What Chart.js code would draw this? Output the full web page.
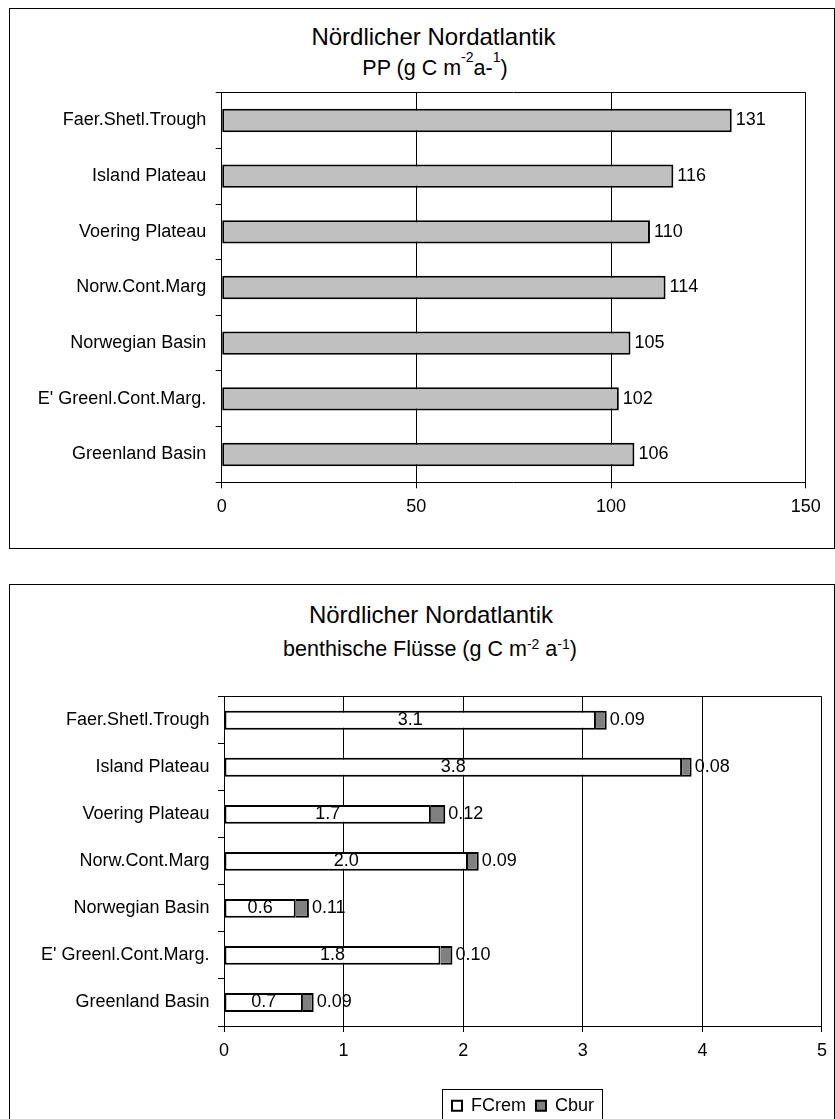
<!DOCTYPE html>
<html><head><meta charset="utf-8">
<script src="https://cdn.jsdelivr.net/npm/chart.js@4.4.1/dist/chart.umd.min.js"></script>
<style>
html,body{margin:0;padding:0;background:#fff;overflow:hidden;width:835px;height:1119px;}
.box{position:absolute;box-sizing:border-box;border:1px solid #000;}
.t{position:absolute;width:600px;text-align:center;font-family:"Liberation Sans",Arial,sans-serif;color:#000;white-space:nowrap;}
.t1{font-size:24px;line-height:24px;}
.t2{font-size:21.5px;line-height:22px;}
.t2 sup{font-size:14px;line-height:0;}
.s1 sup{vertical-align:13px;}
.s2 sup{vertical-align:7px;}
canvas{position:absolute;left:0;}
</style></head><body>
<div class="box" style="left:9px;top:8px;width:826px;height:541px"></div>
<div class="box" style="left:9px;top:584px;width:826px;height:600px"></div>
<div class="t t1" style="left:133.5px;top:24.7px">Nördlicher Nordatlantik</div>
<div class="t t2 s1" style="left:135px;top:56.5px">PP (g C m<sup>-2</sup>a-<sup>1</sup>)</div>
<div class="t t1" style="left:131px;top:603px">Nördlicher Nordatlantik</div>
<div class="t t2 s2" style="left:130px;top:637.5px">benthische Flüsse (g C m<sup>-2</sup> a<sup>-1</sup>)</div>
<canvas id="c1" width="835" height="548" style="top:0"></canvas>
<canvas id="c2" width="835" height="560" style="top:584px"></canvas>
<script>
const categories = ['Faer.Shetl.Trough','Island Plateau','Voering Plateau','Norw.Cont.Marg','Norwegian Basin',"E' Greenl.Cont.Marg.",'Greenland Basin'];
const ppValues = [131,116,110,114,105,102,106];
const fcremValues = [3.11,3.83,1.73,2.04,0.60,1.81,0.66];
const cburValues = [0.09,0.08,0.12,0.09,0.11,0.10,0.09];
const ppTicks = [0,50,100,150];
const fluxTicks = [0,1,2,3,4,5];
const seriesNames = ['FCrem','Cbur'];

const FONT = '"Liberation Sans", Arial, sans-serif';
Chart.defaults.font.family = FONT;
Chart.defaults.font.size = 18;
Chart.defaults.color = '#000';

const al = p => Math.round(p - 0.5) + 0.5;
const frame = {id:'frame', afterDraw(chart){
  const {ctx, chartArea:a} = chart;
  ctx.save(); ctx.strokeStyle='#000'; ctx.lineWidth=1;
  ctx.beginPath();
  ctx.moveTo(al(a.left), al(a.top)); ctx.lineTo(al(a.right), al(a.top)); ctx.lineTo(al(a.right), al(a.bottom));
  ctx.stroke(); ctx.restore();
}};

const ppLabels = {id:'ppLabels', afterDatasetsDraw(chart){
  const ctx = chart.ctx; const meta = chart.getDatasetMeta(0);
  ctx.save(); ctx.font = '18px ' + FONT; ctx.fillStyle='#000'; ctx.textAlign='left'; ctx.textBaseline='middle';
  meta.data.forEach((el,i)=>{ ctx.fillText(String(chart.data.datasets[0].data[i]), el.x + 4, el.y); });
  ctx.restore();
}};

const fluxLabels = {id:'fluxLabels', afterDatasetsDraw(chart){
  const ctx = chart.ctx;
  const m0 = chart.getDatasetMeta(0), m1 = chart.getDatasetMeta(1);
  ctx.save(); ctx.font = '18px ' + FONT; ctx.fillStyle='#000'; ctx.textBaseline='middle';
  ctx.textAlign='center';
  m0.data.forEach((el,i)=>{ ctx.fillText(chart.data.datasets[0].data[i].toFixed(1), (el.x + el.base)/2, el.y); });
  ctx.textAlign='left';
  m1.data.forEach((el,i)=>{ ctx.fillText(chart.data.datasets[1].data[i].toFixed(2), el.x + 3, el.y); });
  ctx.restore();
}};

const legendFrame = {id:'legendFrame', afterDraw(chart){
  const lg = chart.legend; if(!lg || !lg.legendHitBoxes) return;
  const hb = lg.legendHitBoxes;
  const l = Math.min(...hb.map(h=>h.left)), r = Math.max(...hb.map(h=>h.left+h.width)), t = Math.min(...hb.map(h=>h.top));
  const ctx = chart.ctx; ctx.save(); ctx.strokeStyle='#000'; ctx.lineWidth=1;
  ctx.strokeRect(al(l-9), al(t-7), Math.round(r-l+18), 200);
  ctx.restore();
}};

new Chart(document.getElementById('c1'), {
  type:'bar',
  data:{labels:categories, datasets:[{label:'PP', data:ppValues, backgroundColor:'#C0C0C0', borderColor:'#000', borderWidth:2, borderSkipped:false, barPercentage:0.42, categoryPercentage:1}]},
  options:{
    indexAxis:'y', responsive:false, animation:false, events:[],
    layout:{padding:{left:0, top:92.7, right:29.3, bottom:25.7}},
    plugins:{legend:{display:false}, tooltip:{enabled:false}},
    scales:{
      x:{min:ppTicks[0], max:ppTicks[ppTicks.length-1], ticks:{stepSize:ppTicks[1]-ppTicks[0], padding:8, color:'#000'},
         grid:{color:'#000', lineWidth:1, tickLength:6}, border:{color:'#000', width:1}, afterFit(s){s.height=40;}},
      y:{ticks:{padding:9.5, color:'#000'}, grid:{offset:true, drawOnChartArea:false, tickLength:6, color:'#000'},
         border:{color:'#000', width:1}, afterFit(s){s.width=221.7;}}
    }
  },
  plugins:[frame, ppLabels]
});

new Chart(document.getElementById('c2'), {
  type:'bar',
  data:{labels:categories, datasets:[
    {label:seriesNames[0], data:fcremValues, backgroundColor:'#FFFFFF', borderColor:'#000', borderWidth:2, borderSkipped:false, barPercentage:0.4, categoryPercentage:1},
    {label:seriesNames[1], data:cburValues, backgroundColor:'#808080', borderColor:'#000', borderWidth:2, borderSkipped:'start', barPercentage:0.4, categoryPercentage:1}
  ]},
  options:{
    indexAxis:'y', responsive:false, animation:false, events:[],
    layout:{padding:{left:0, top:112.7, right:9.3, bottom:19.3}},
    plugins:{
      legend:{display:true, position:'bottom', fullSize:false,
        labels:{boxWidth:10, boxHeight:10, padding:10, color:'#000', font:{size:18}}},
      tooltip:{enabled:false}
    },
    scales:{
      x:{stacked:true, min:fluxTicks[0], max:fluxTicks[fluxTicks.length-1], ticks:{stepSize:fluxTicks[1]-fluxTicks[0], padding:8, color:'#000'},
         grid:{color:'#000', lineWidth:1, tickLength:6}, border:{color:'#000', width:1}, afterFit(s){s.height=60.7;}},
      y:{stacked:true, ticks:{padding:8.5, color:'#000'}, grid:{offset:true, drawOnChartArea:false, tickLength:6, color:'#000'},
         border:{color:'#000', width:1}, afterFit(s){s.width=224;}}
    }
  },
  plugins:[frame, fluxLabels, legendFrame]
});
</script>
</body></html>
